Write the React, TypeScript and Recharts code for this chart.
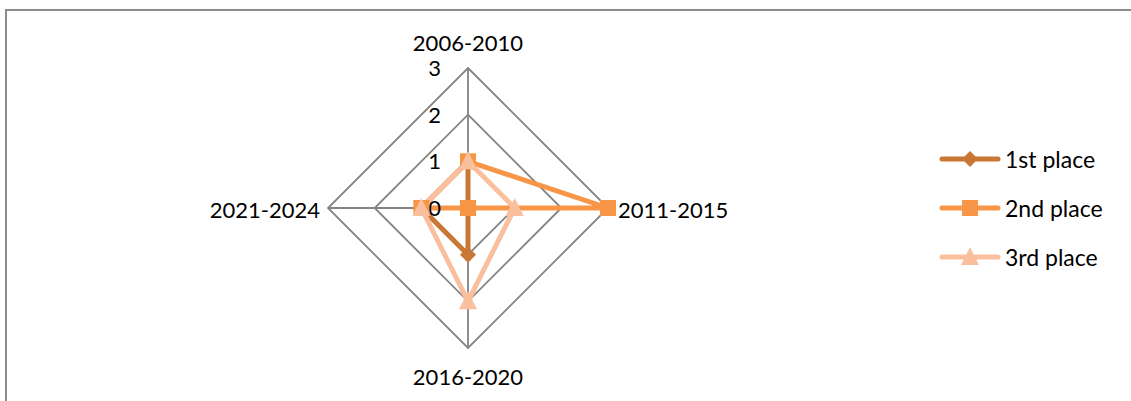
import React from "react"
import { PolarAngleAxis, PolarGrid, PolarRadiusAxis, Radar, RadarChart } from "recharts"

const periods = ["2006-2010", "2011-2015", "2016-2020", "2021-2024"]
const firstPlace = [1, 0, 1, 1]
const secondPlace = [1, 3, 0, 1]
const thirdPlace = [1, 1, 2, 1]
const radiusTicks = [0, 1, 2, 3]

const data = periods.map((period, i) => ({
  period,
  first: firstPlace[i],
  second: secondPlace[i],
  third: thirdPlace[i],
}))

const CX = 468
const CY = 208
const FONT = "Lato, 'Open Sans', sans-serif"

const series = [
  { key: "first", name: "1st place", color: "#C97734", shape: "diamond" },
  { key: "second", name: "2nd place", color: "#F79646", shape: "square" },
  { key: "third", name: "3rd place", color: "#FAC09E", shape: "triangle" },
]

function Marker({ cx, cy, shape, color }: { cx: number; cy: number; shape: string; color: string }) {
  if (shape === "diamond") {
    return <polygon points={`${cx},${cy - 8} ${cx + 8},${cy} ${cx},${cy + 8} ${cx - 8},${cy}`} fill={color} />
  }
  if (shape === "square") {
    return <rect x={cx - 8} y={cy - 8} width={16} height={16} fill={color} />
  }
  return <polygon points={`${cx},${cy - 10} ${cx + 9},${cy + 8} ${cx - 9},${cy + 8}`} fill={color} />
}

function AngleTick(props: any) {
  const { x, y, payload, textAnchor } = props
  let dx = 0
  let dy = 10
  if (y < CY - 1) dy = -9
  else if (y > CY + 1) dy = 29
  else if (x > CX) dx = 2
  return (
    <text x={x + dx} y={y + dy} textAnchor={textAnchor} fontFamily={FONT} fontSize={22} fill="#000">
      {payload.value}
    </text>
  )
}

function RadiusTick(props: any) {
  const { x, y, payload } = props
  return (
    <text x={x - 27} y={y + 8} textAnchor="end" fontFamily={FONT} fontSize={22} fill="#000">
      {payload.value}
    </text>
  )
}

function LegendBox() {
  return (
    <div style={{ position: "absolute", left: 938, top: 134 }}>
      {series.map((s) => (
        <div key={s.key} style={{ display: "flex", alignItems: "center", height: 49 }}>
          <svg width={64} height={24}>
            <line x1={4} y1={12} x2={60} y2={12} stroke={s.color} strokeWidth={5} strokeLinecap="round" />
            <Marker cx={32} cy={12} shape={s.shape} color={s.color} />
          </svg>
          <span style={{ fontFamily: FONT, fontSize: 23, color: "#000", marginLeft: 3 }}>{s.name}</span>
        </div>
      ))}
    </div>
  )
}

export default function App() {
  return (
    <div style={{ position: "absolute", left: 0, top: 0, width: 1131, height: 401, overflow: "hidden", background: "#fff" }}>
      <div
        style={{
          position: "absolute",
          left: 5,
          top: 9,
          width: 1150,
          height: 420,
          borderLeft: "2px solid #8c8c8c",
          borderTop: "2px solid #8c8c8c",
        }}
      />
      <RadarChart width={1131} height={401} data={data} cx={CX} cy={CY} outerRadius={140} style={{ position: "absolute", left: 0, top: 0 }}>
        <PolarGrid gridType="polygon" stroke="#838383" strokeWidth={1.8} />
        <PolarAngleAxis dataKey="period" tick={<AngleTick />} tickLine={false} axisLine={false} />
        <PolarRadiusAxis angle={90} domain={[0, 3]} ticks={radiusTicks} tickCount={4} tick={<RadiusTick />} axisLine={false} />
        {series.map((s) => (
          <Radar
            key={s.key}
            name={s.name}
            dataKey={s.key}
            stroke={s.color}
            strokeWidth={5}
            fill="none"
            fillOpacity={0}
            dot={(p: any) => <Marker key={`${s.key}-${p.index}`} cx={p.cx} cy={p.cy} shape={s.shape} color={s.color} />}
            isAnimationActive={false}
          />
        ))}
      </RadarChart>
      <LegendBox />
    </div>
  )
}
